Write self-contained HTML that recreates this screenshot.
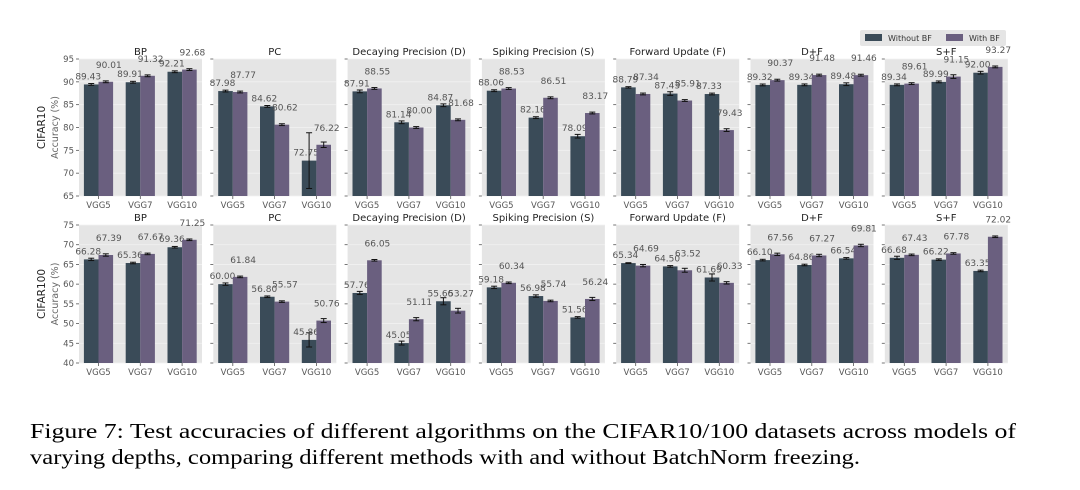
<!DOCTYPE html>
<html><head><meta charset="utf-8"><style>
body{margin:0;background:#fff;width:1080px;height:490px;overflow:hidden}
svg{display:block}
</style></head><body>
<svg id="fig" width="1080" height="490" xmlns="http://www.w3.org/2000/svg" font-family="DejaVu Sans, Liberation Sans, sans-serif">
<g>
<rect x="860" y="30" width="146" height="16" rx="2" fill="#e5e5e5"/>
<rect x="865" y="34" width="17" height="7" fill="#3a4b58"/>
<text x="888" y="41" font-size="8" fill="#333">Without BF</text>
<rect x="946" y="34" width="17" height="7" fill="#6a5f7f"/>
<text x="969" y="41" font-size="8" fill="#333">With BF</text>
</g>
<text x="30" y="438" font-family="Liberation Serif, serif" font-size="21" textLength="986" lengthAdjust="spacingAndGlyphs" fill="#000">Figure 7: Test accuracies of different algorithms on the CIFAR10/100 datasets across models of</text>
<text x="30" y="464" font-family="Liberation Serif, serif" font-size="21" textLength="830" lengthAdjust="spacingAndGlyphs" fill="#000">varying depths, comparing different methods with and without BatchNorm freezing.</text>
</svg>
<script>
const methods=["BP","PC","Decaying Precision (D)","Spiking Precision (S)","Forward Update (F)","D+F","S+F"];
const models=["VGG5","VGG7","VGG10"];
const c10Without=[[89.43,89.91,92.21],[87.98,84.62,72.75],[87.91,81.14,84.87],[88.06,82.16,78.09],[88.79,87.43,87.33],[89.32,89.34,89.48],[89.34,89.99,92.00]];
const c10With=[[90.01,91.32,92.68],[87.77,80.62,76.22],[88.55,80.00,81.68],[88.53,86.51,83.17],[87.34,85.91,79.43],[90.37,91.48,91.46],[89.61,91.15,93.27]];
const c10ErrWithout=[[0.2,0.2,0.2],[0.2,0.2,6.1],[0.3,0.3,0.3],[0.2,0.2,0.4],[0.15,0.4,0.2],[0.2,0.2,0.3],[0.2,0.2,0.3]];
const c10ErrWith=[[0.2,0.2,0.2],[0.2,0.2,0.6],[0.2,0.2,0.2],[0.2,0.2,0.2],[0.2,0.2,0.3],[0.2,0.2,0.2],[0.2,0.4,0.2]];
const c100Without=[[66.28,65.36,69.36],[60.00,56.80,45.86],[57.76,45.05,55.66],[59.18,56.98,51.56],[65.34,64.50,61.69],[66.10,64.86,66.54],[66.68,66.22,63.35]];
const c100With=[[67.39,67.67,71.25],[61.84,55.57,50.76],[66.05,51.11,53.27],[60.34,55.74,56.24],[64.69,63.52,60.33],[67.56,67.27,69.81],[67.43,67.78,72.02]];
const c100ErrWithout=[[0.3,0.2,0.2],[0.3,0.2,1.8],[0.4,0.5,0.9],[0.3,0.3,0.2],[0.1,0.2,0.9],[0.2,0.2,0.2],[0.4,0.2,0.2]];
const c100ErrWith=[[0.3,0.2,0.2],[0.2,0.2,0.5],[0.2,0.4,0.6],[0.2,0.2,0.4],[0.3,0.5,0.3],[0.3,0.3,0.3],[0.2,0.2,0.2]];
const c10Ticks=[65,70,75,80,85,90,95];
const c100Ticks=[40,45,50,55,60,65,70,75];

const NS="http://www.w3.org/2000/svg";
const svg=document.getElementById("fig");
function mk(tag,attrs,parent,text){const e=document.createElementNS(NS,tag);for(const k in attrs)e.setAttribute(k,attrs[k]);if(text!==undefined)e.textContent=text;(parent||svg).appendChild(e);return e;}

function row(rowName,yTop,yBot,ticks,wo,wi,ewo,ewi,dsLabel){
  const ymin=ticks[0],ymax=ticks[ticks.length-1];
  const y=v=>yBot-(v-ymin)/(ymax-ymin)*(yBot-yTop);
  const pitch=134.3,pw=123,x0=79;
  const yl=mk("text",{x:45,y:(yTop+yBot)/2,"font-size":10.5,fill:"#222","text-anchor":"middle",transform:`rotate(-90 45 ${(yTop+yBot)/2})`},svg,dsLabel);
  
  
  const yl2=mk("text",{x:58,y:(yTop+yBot)/2,"font-size":9.5,fill:"#666","text-anchor":"middle",transform:`rotate(-90 58 ${(yTop+yBot)/2})`},svg,"Accuracy (%)");
  
  
  methods.forEach((m,mi)=>{
    const px=x0+mi*pitch;
    const g=mk("g",{});
    
    
    const bg=mk("rect",{x:px,y:yTop,width:pw,height:yBot-yTop,fill:"#e5e5e5"},g);
    
    
    ticks.forEach(t=>{
      const gl=mk("line",{x1:px,x2:px+pw,y1:y(t),y2:y(t),stroke:"#f2f2f2","stroke-width":0.8},g);
      
      
      mk("line",{x1:px-3,x2:px,y1:y(t),y2:y(t),stroke:"#555","stroke-width":0.8},g);
      if(mi===0){const tl=mk("text",{x:px-5,y:y(t)+3,"font-size":8.5,fill:"#555","text-anchor":"end"},g,String(t));
        
        }
    });
    const title=mk("text",{x:px+pw/2,y:yTop-4,"font-size":10,fill:"#222","text-anchor":"middle"},g,m);
    
    
    models.forEach((md,gi)=>{
      const cx=px+19.5+gi*41.8,bw=14.6;
      [[wo,ewo,"#3a4b58",cx-bw,-3,5],[wi,ewi,"#6a5f7f",cx,3,14]].forEach(([arr,err,col,bx,dx,up],si)=>{
        const v=arr[mi][gi],e=err[mi][gi];
        const r=mk("rect",{x:bx,y:y(v),width:bw,height:yBot-y(v),fill:col},g);
        
        
        const ex=bx+bw/2;
        mk("line",{x1:ex,x2:ex,y1:y(v+e),y2:y(v-e),stroke:"#111","stroke-width":1},g);
        mk("line",{x1:ex-3,x2:ex+3,y1:y(v+e),y2:y(v+e),stroke:"#111","stroke-width":1},g);
        mk("line",{x1:ex-3,x2:ex+3,y1:y(v-e),y2:y(v-e),stroke:"#111","stroke-width":1},g);
        const lb=mk("text",{x:ex+dx,y:y(v)-up,"font-size":9,fill:"#555","text-anchor":"middle"},g,v.toFixed(2));
        
        
      });
      mk("line",{x1:cx,x2:cx,y1:yBot,y2:yBot+3,stroke:"#555","stroke-width":0.8},g);
      const xl=mk("text",{x:cx,y:yBot+12,"font-size":8.5,fill:"#555","text-anchor":"middle"},g,md);
      
      
    });
  });
}
row("cifar10",59,196,c10Ticks,c10Without,c10With,c10ErrWithout,c10ErrWith,"CIFAR10");
row("cifar100",225,363,c100Ticks,c100Without,c100With,c100ErrWithout,c100ErrWith,"CIFAR100");
</script>
</body></html>
